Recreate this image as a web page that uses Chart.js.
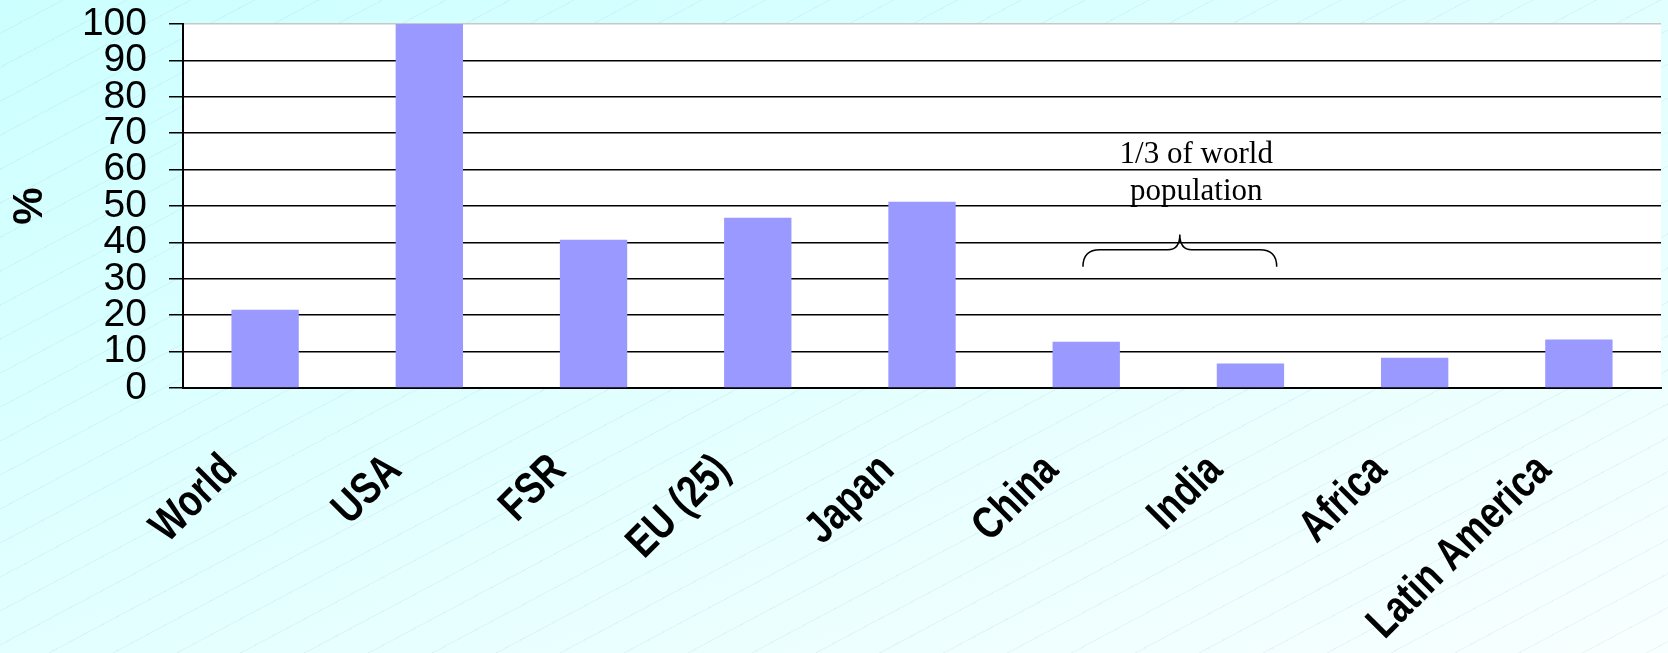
<!DOCTYPE html>
<html>
<head>
<meta charset="utf-8">
<script src="https://cdn.jsdelivr.net/npm/chart.js@4.4.0/dist/chart.umd.min.js"></script>
<style>
  html, body { margin: 0; padding: 0; }
  body {
    width: 1668px;
    height: 653px;
    overflow: hidden;
    background:
      repeating-linear-gradient(152deg, rgba(255,255,255,0) 0px, rgba(255,255,255,0) 29px, rgba(140,160,200,0.12) 29px, rgba(140,160,200,0.12) 30px),
      linear-gradient(160deg, #ccffff 0%, #e4ffff 55%, #f8ffff 100%);
  }
  canvas { display: block; }
</style>
</head>
<body>
<canvas id="chart" width="1668" height="653"></canvas>
<script>
// values (% of USA level)
const categories = ["World", "USA", "FSR", "EU (25)", "Japan", "China", "India", "Africa", "Latin America"];
const shares = [21.5, 100, 40.7, 46.8, 51.2, 12.7, 6.7, 8.3, 13.3];
const noteLines = ["1/3 of world", "population"];

const plotBackground = {
  id: "plotBackground",
  beforeDraw(chart) {
    const { ctx, chartArea: a } = chart;
    ctx.save();
    ctx.fillStyle = "#ffffff";
    ctx.fillRect(a.left, a.top, a.right - a.left, a.bottom - a.top);
    ctx.restore();
  },
};

// category names, bold and squeezed like the original, slanted 45deg
const slantedLabels = {
  id: "slantedLabels",
  afterDraw(chart) {
    const { ctx } = chart;
    const x = chart.scales.x;
    ctx.save();
    ctx.fillStyle = "#000";
    ctx.font = "bold 45px 'Liberation Sans', Arial, sans-serif";
    ctx.textAlign = "right";
    ctx.textBaseline = "alphabetic";
    categories.forEach((label, i) => {
      ctx.save();
      ctx.translate(x.getPixelForTick(i) - 26, x.top + 84);
      ctx.rotate(-Math.PI / 4);
      ctx.scale(0.8, 1);
      ctx.fillText(label, 0, 0);
      ctx.restore();
    });
    ctx.restore();
  },
};

// brace + note over China and India
const braceNote = {
  id: "braceNote",
  afterDraw(chart) {
    const { ctx } = chart;
    const x = chart.scales.x;
    const y = chart.scales.y;

    const xL = x.getPixelForValue(4.98);
    const xR = x.getPixelForValue(6.16);
    const xc = (xL + xR) / 2;
    const yEnd = y.getPixelForValue(33.3);
    const yMid = y.getPixelForValue(38);
    const yTip = y.getPixelForValue(42.2);

    ctx.save();
    ctx.strokeStyle = "#000";
    ctx.lineWidth = 1.5;
    ctx.beginPath();
    ctx.moveTo(xL, yEnd);
    ctx.quadraticCurveTo(xL, yMid, xL + 17, yMid);
    ctx.lineTo(xc - 12, yMid);
    ctx.quadraticCurveTo(xc, yMid, xc, yTip);
    ctx.quadraticCurveTo(xc, yMid, xc + 12, yMid);
    ctx.lineTo(xR - 17, yMid);
    ctx.quadraticCurveTo(xR, yMid, xR, yEnd);
    ctx.stroke();

    ctx.fillStyle = "#000";
    ctx.font = "31px 'Liberation Serif', 'Times New Roman', serif";
    ctx.textAlign = "center";
    ctx.textBaseline = "alphabetic";
    const tx = x.getPixelForValue(5.67);
    ctx.fillText(noteLines[0], tx, y.getPixelForValue(61.9));
    ctx.fillText(noteLines[1], tx, y.getPixelForValue(51.7));
    ctx.restore();
  },
};

new Chart(document.getElementById("chart"), {
  type: "bar",
  data: {
    labels: categories,
    datasets: [
      {
        label: "%",
        data: shares,
        backgroundColor: "#9999ff",
        borderWidth: 0,
        barPercentage: 0.41,
        categoryPercentage: 1,
      },
    ],
  },
  options: {
    responsive: false,
    animation: false,
    devicePixelRatio: 1,
    layout: { padding: { left: 0, right: 7, top: 24, bottom: 0 } },
    plugins: {
      legend: { display: false },
      tooltip: { enabled: false },
    },
    scales: {
      x: {
        afterFit: (scale) => { scale.height = 265; },
        grid: { display: false, drawTicks: false },
        border: { display: true, color: "#000", width: 2 },
        ticks: { display: false, autoSkip: false },
      },
      y: {
        min: 0,
        max: 100,
        afterFit: (scale) => {
          scale.width = 183;
          scale.paddingTop = 0;
          scale.paddingBottom = 0;
        },
        border: { display: true, color: "#000", width: 2 },
        grid: {
          color: (ctx) => (ctx.tick && ctx.tick.value === 100 ? "#c8c8c8" : "#000"),
          lineWidth: 1.5,
          tickColor: "#000",
          tickLength: 14,
        },
        ticks: {
          stepSize: 10,
          autoSkip: false,
          padding: 22,
          color: "#000",
          font: { family: "'Liberation Sans', Arial, sans-serif", size: 39, lineHeight: 1 },
        },
        title: {
          display: true,
          text: "%",
          color: "#000",
          padding: { top: 5, bottom: 0 },
          font: { family: "'Liberation Sans', Arial, sans-serif", size: 42, weight: "bold" },
        },
      },
    },
  },
  plugins: [plotBackground, slantedLabels, braceNote],
});
</script>
</body>
</html>
